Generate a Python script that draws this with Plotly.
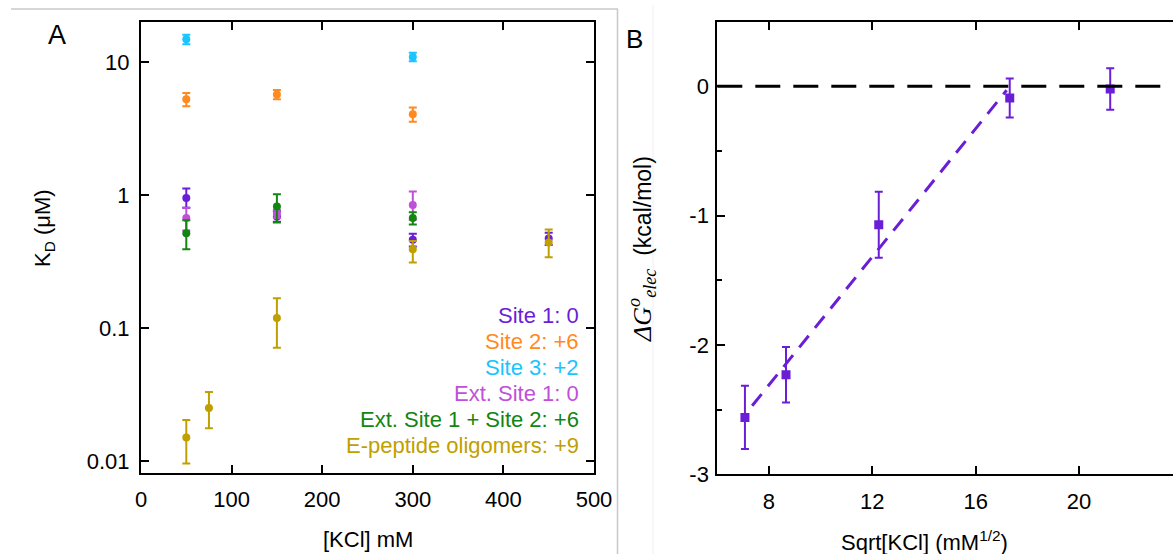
import math
import plotly.graph_objects as go

W, H = 1173, 554

# ---------------- Panel A data ----------------
kcl_site1 = [50, 150, 300, 450]
kd_site1 = [0.95, 0.69, 0.46, 0.47]
kd_site1_up = [0.17, 0.06, 0.05, 0.05]
kd_site1_dn = [0.15, 0.06, 0.05, 0.05]

kcl_site2 = [50, 150, 300]
kd_site2 = [5.25, 5.7, 4.05]
kd_site2_err = [0.6, 0.45, 0.5]

kcl_site3 = [50, 300]
kd_site3 = [14.8, 10.9]
kd_site3_err = [1.2, 0.8]

kcl_ext1 = [50, 150, 300]
kd_ext1 = [0.67, 0.72, 0.84]
kd_ext1_up = [0.13, 0.05, 0.22]
kd_ext1_dn = [0.13, 0.05, 0.19]

kcl_ext1s2 = [50, 150, 300]
kd_ext1s2 = [0.515, 0.82, 0.67]
kd_ext1s2_up = [0.13, 0.19, 0.07]
kd_ext1s2_dn = [0.125, 0.2, 0.07]

kcl_epep = [50, 75, 150, 300, 450]
kd_epep = [0.015, 0.025, 0.119, 0.39, 0.44]
kd_epep_up = [0.0053, 0.008, 0.048, 0.06, 0.11]
kd_epep_dn = [0.0054, 0.0074, 0.048, 0.08, 0.10]

legend_labels = ["Site 1: 0", "Site 2: +6", "Site 3: +2", "Ext. Site 1: 0",
                 "Ext. Site 1 + Site 2: +6", "E-peptide oligomers: +9"]

xA_ticks = [0, 100, 200, 300, 400, 500]
yA_ticks = [0.01, 0.1, 1, 10]
yA_ticktext = ["0.01", "0.1", "1", "10"]

# ---------------- Panel B data ----------------
sqrt_kcl = [7.07, 8.66, 12.25, 17.32, 21.21]
dG_elec = [-2.56, -2.23, -1.07, -0.09, -0.02]
dG_err = [0.245, 0.215, 0.255, 0.15, 0.16]
fit_x = [7.35, 17.2]
fit_y = [-2.47, -0.03]

xB_ticks = [8, 12, 16, 20]
yB_ticks = [-3, -2, -1, 0]
yB_ticktext = ["-3", "-2", "-1", "0"]

# ---------------- Styles ----------------
PURPLE = "#6A1ED6"
ORANGE = "#FF8A1F"
CYAN = "#1AC4FF"
ORCHID = "#C050DA"
GREEN = "#128512"
GOLD = "#C0A000"
colors = [PURPLE, ORANGE, CYAN, ORCHID, GREEN, GOLD]
FONT = "Liberation Sans, Arial, sans-serif"


def px(x):
    return x / W


def py(y):
    return 1 - y / H


fig = go.Figure()


def add_a(x, y, up, dn, color):
    fig.add_trace(go.Scatter(
        x=x, y=y, mode="markers", xaxis="x", yaxis="y",
        marker=dict(symbol="circle", size=8, color=color),
        error_y=dict(type="data", symmetric=False, array=up, arrayminus=dn,
                     color=color, thickness=2, width=4),
        showlegend=False, hoverinfo="x+y"))


add_a(kcl_site1, kd_site1, kd_site1_up, kd_site1_dn, PURPLE)
add_a(kcl_site2, kd_site2, kd_site2_err, kd_site2_err, ORANGE)
add_a(kcl_site3, kd_site3, kd_site3_err, kd_site3_err, CYAN)
add_a(kcl_ext1, kd_ext1, kd_ext1_up, kd_ext1_dn, ORCHID)
add_a(kcl_ext1s2, kd_ext1s2, kd_ext1s2_up, kd_ext1s2_dn, GREEN)
add_a(kcl_epep, kd_epep, kd_epep_up, kd_epep_dn, GOLD)

# Panel B
fig.add_trace(go.Scatter(
    x=fit_x, y=fit_y, mode="lines", xaxis="x2", yaxis="y2",
    line=dict(color=PURPLE, width=3, dash="15px,10px"),
    showlegend=False, hoverinfo="skip"))
fig.add_trace(go.Scatter(
    x=sqrt_kcl, y=dG_elec, mode="markers", xaxis="x2", yaxis="y2",
    marker=dict(symbol="square", size=9, color=PURPLE),
    error_y=dict(type="data", array=dG_err, color=PURPLE, thickness=2, width=4),
    showlegend=False))

tickfont = dict(family=FONT, size=22, color="black")
axis_common = dict(showline=True, linecolor="black", linewidth=2, ticks="inside",
                   ticklen=8, tickwidth=2, tickcolor="black", showgrid=False,
                   zeroline=False, tickfont=tickfont, automargin=False)

fig.update_layout(
    width=W, height=H,
    margin=dict(l=0, r=0, t=0, b=0),
    paper_bgcolor="white", plot_bgcolor="white",
    xaxis=dict(domain=[px(141), px(594)], range=[0, 500], tickvals=xA_ticks,
               mirror="ticks", anchor="y", ticklabelstandoff=6, **axis_common),
    yaxis=dict(domain=[py(473), py(22)], type="log", range=[-2.09, 1.3],
               tickvals=yA_ticks, ticktext=yA_ticktext, mirror="ticks",
               anchor="x", ticklabelstandoff=5, **axis_common),
    xaxis2=dict(domain=[px(717.3), 1.0], range=[6, 23.64], tickvals=xB_ticks,
                mirror="ticks", anchor="y2", ticklabelstandoff=6, **axis_common),
    yaxis2=dict(domain=[py(474.3), py(21.7)], range=[-3, 0.5], tickvals=yB_ticks,
                ticktext=yB_ticktext, mirror=False, anchor="x2", ticklabelstandoff=2,
                minor=dict(ticks="inside", ticklen=5, tickwidth=2,
                           tickcolor="black", dtick=0.5, showgrid=False),
                **axis_common),
    showlegend=False,
)

# zero reference line in panel B
fig.add_shape(type="line", xref="x2 domain", yref="y2", x0=0, x1=1, y0=0, y1=0,
              line=dict(color="black", width=3, dash="25px,13px"))

# light gray frame lines of the original figure
fig.add_shape(type="line", xref="paper", yref="paper", x0=px(11), x1=px(618),
              y0=py(9), y1=py(9), line=dict(color="#c8c8c8", width=1.5))
fig.add_shape(type="line", xref="paper", yref="paper", x0=px(617.5), x1=px(617.5),
              y0=py(9), y1=0, line=dict(color="#c8c8c8", width=1.5))
fig.add_shape(type="line", xref="paper", yref="paper", x0=px(653), x1=px(653),
              y0=py(5), y1=0, line=dict(color="#f0f0f0", width=1))

ann = []
# legend text
for i, (lab, c) in enumerate(zip(legend_labels, colors)):
    ann.append(dict(x=px(581), y=py(315.7 + 26 * i), xref="paper", yref="paper",
                    text=lab, showarrow=False, xanchor="right", yanchor="middle",
                    font=dict(family=FONT, size=22, color=c)))
# panel letters
ann.append(dict(x=px(57), y=py(35), xref="paper", yref="paper", text="A",
                showarrow=False, xanchor="center", yanchor="middle",
                font=dict(family=FONT, size=27, color="black")))
ann.append(dict(x=px(634), y=py(39), xref="paper", yref="paper", text="B",
                showarrow=False, xanchor="center", yanchor="middle",
                font=dict(family=FONT, size=26, color="black")))
# axis titles
ann.append(dict(x=px(367.5), y=py(539), xref="paper", yref="paper", text="[KCl] mM",
                showarrow=False, xanchor="center", yanchor="middle",
                font=dict(family=FONT, size=22, color="black")))
ann.append(dict(x=px(44), y=py(228), xref="paper", yref="paper",
                text="K<sub>D</sub> (μM)", textangle=-90,
                showarrow=False, xanchor="center", yanchor="middle",
                font=dict(family=FONT, size=22, color="black")))
ann.append(dict(x=px(924), y=py(541), xref="paper", yref="paper",
                text="Sqrt[KCl] (mM<sup>1/2</sup>)",
                showarrow=False, xanchor="center", yanchor="middle",
                font=dict(family=FONT, size=22, color="black")))
ann.append(dict(x=px(642), y=py(249), xref="paper", yref="paper",
                text="<span style=\"font-family:'Liberation Serif';font-size:26px\"><i>ΔG</i><sup><i>o</i></sup><sub><i>elec</i></sub></span>  (kcal/mol)",
                textangle=-90, showarrow=False, xanchor="center", yanchor="middle",
                font=dict(family=FONT, size=23, color="black")))
fig.update_layout(annotations=ann)

fig.write_html("out.html")
